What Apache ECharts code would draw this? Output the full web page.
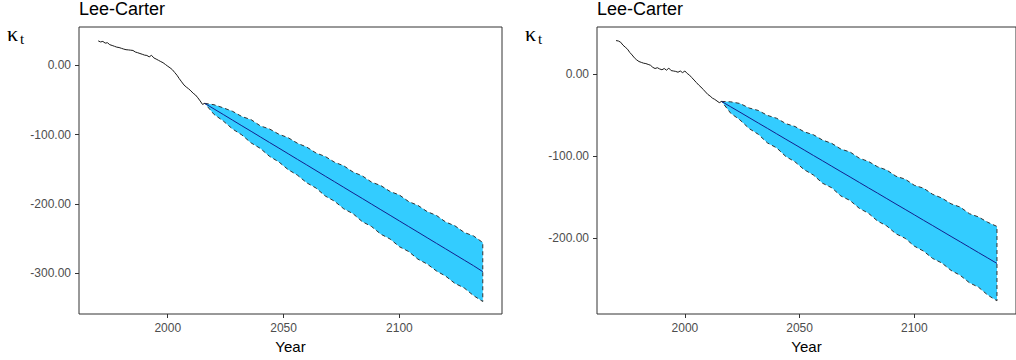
<!DOCTYPE html>
<html>
<head>
<meta charset="utf-8">
<script src="https://cdn.jsdelivr.net/npm/echarts@6/dist/echarts.min.js"></script>
<style>html,body{margin:0;padding:0;background:#fff}#c{width:1016px;height:360px}</style>
</head>
<body>
<div id="c"></div>
<script>
// ---------- data ----------
const histYears = [1970,1971,1972,1973,1974,1975,1976,1977,1978,1979,1980,1981,1982,1983,1984,1985,1986,1987,1988,1989,1990,1991,1992,1993,1994,1995,1996,1997,1998,1999,2000,2001,2002,2003,2004,2005,2006,2007,2008,2009,2010,2011,2012,2013,2014,2015,2016];
const histLeft = [35.0,33.5,34.2,31.8,32.3,29.5,28.4,27.2,26.0,25.4,24.3,23.2,22.3,22.0,21.6,21.2,19.0,18.0,16.8,15.7,14.5,14.0,12.0,14.2,10.5,8.8,7.0,5.2,3.5,1.0,-1.5,-3.8,-6.5,-10.5,-14.5,-19.5,-24.0,-28.5,-31.5,-34.0,-37.0,-40.5,-43.0,-47.0,-51.5,-56.5,-55.0];
const histRight = [40.5,40.0,38.5,35.0,32.5,30.0,26.0,23.0,19.5,17.0,15.0,14.0,13.0,12.5,11.5,10.5,8.0,6.5,7.5,6.0,5.0,6.5,4.5,7.0,4.0,3.5,3.0,2.0,3.5,1.5,3.5,0.5,-1.5,-4.5,-7.5,-10.5,-13.5,-16.0,-19.0,-22.0,-25.0,-27.0,-29.5,-31.0,-33.0,-35.0,-33.5];

const fcYears = [2016,2020,2024,2028,2032,2036,2040,2044,2048,2052,2056,2060,2064,2068,2072,2076,2080,2084,2088,2092,2096,2100,2104,2108,2112,2116,2120,2124,2128,2132,2136];
const meanLeft = [-55.0,-63.1,-71.1,-79.2,-87.3,-95.3,-103.4,-111.5,-119.5,-127.6,-135.7,-143.7,-151.8,-159.9,-167.9,-176.0,-184.1,-192.1,-200.2,-208.3,-216.3,-224.4,-232.5,-240.5,-248.6,-256.7,-264.7,-272.8,-280.9,-288.9,-297.5];
const upperLeft = [-55.0,-57.0,-61.5,-66.5,-74.0,-78.5,-87.5,-92.0,-99.5,-104.5,-112.5,-118.0,-126.5,-131.5,-139.8,-145.0,-154.0,-159.5,-168.5,-173.5,-182.0,-187.0,-196.5,-202.0,-211.0,-216.5,-226.0,-231.5,-241.0,-246.0,-255.5];
const lowerLeft = [-55.0,-71.0,-80.5,-92.0,-100.5,-112.0,-120.0,-131.5,-139.5,-150.5,-158.5,-169.5,-177.0,-188.5,-196.0,-207.0,-214.0,-225.5,-232.5,-243.5,-250.5,-261.5,-268.5,-279.5,-286.5,-296.5,-304.0,-314.5,-321.0,-332.0,-340.5];
const meanRight = [-33.5,-40.1,-46.6,-53.2,-59.8,-66.3,-72.9,-79.5,-86.0,-92.6,-99.2,-105.7,-112.3,-118.9,-125.4,-132.0,-138.6,-145.1,-151.7,-158.3,-164.8,-171.4,-178.0,-184.5,-191.1,-197.7,-204.2,-210.8,-217.4,-223.9,-230.5];
const upperRight = [-33.5,-34.0,-36.0,-41.5,-44.5,-50.5,-54.0,-60.5,-64.0,-70.5,-74.0,-80.5,-84.5,-91.5,-95.0,-102.5,-106.5,-113.0,-117.0,-124.5,-128.0,-135.5,-139.0,-146.5,-151.0,-158.0,-162.0,-170.0,-174.0,-180.5,-185.5];
const lowerRight = [-33.5,-48.0,-56.0,-66.5,-73.5,-84.0,-90.0,-100.5,-107.0,-116.5,-123.0,-133.0,-138.5,-148.5,-154.0,-163.5,-169.5,-179.0,-185.0,-194.5,-200.0,-209.5,-215.5,-224.5,-230.0,-239.0,-245.0,-254.0,-259.5,-269.0,-276.0];

const xTicks = [2000, 2050, 2100];
const yTicksLeft = [-300, -200, -100, 0];
const yTicksRight = [-200, -100, 0];

// ---------- chart ----------
const FONT = 'Liberation Sans, Arial, sans-serif';
const chart = echarts.init(document.getElementById('c'), null, {renderer: 'svg'});

function pairs(xs, ys) { return xs.map((x, i) => [x, ys[i]]); }

function xAxisCfg(gi) {
  return {
    type: 'value', gridIndex: gi, min: 1961.7, max: 2144.3, position: 'bottom',
    axisLine: {show: false, onZero: false}, splitLine: {show: false},
    axisTick: {show: true, length: 4, lineStyle: {color: '#333', width: 1}, customValues: xTicks},
    axisLabel: {customValues: xTicks, color: '#4D4D4D', fontSize: 12, margin: 8, fontFamily: FONT,
      formatter: v => String(Math.round(v))},
    name: 'Year', nameLocation: 'middle', nameGap: 22,
    nameTextStyle: {fontSize: 15, color: '#000', fontFamily: FONT}
  };
}
function yAxisCfg(gi, mn, mx, ticks) {
  return {
    type: 'value', gridIndex: gi, min: mn, max: mx, position: 'left',
    axisLine: {show: false, onZero: false}, splitLine: {show: false},
    axisTick: {show: true, length: 4, lineStyle: {color: '#333', width: 1}, customValues: ticks},
    axisLabel: {customValues: ticks, color: '#4D4D4D', fontSize: 12, margin: 8, fontFamily: FONT,
      formatter: v => Number(v).toFixed(2)}
  };
}
function band(gi, up, lo) {
  return {
    type: 'custom', xAxisIndex: gi, yAxisIndex: gi, silent: true, z: 2,
    data: [[fcYears[0], up[0]]],
    renderItem: function (params, api) {
      const pts = [];
      for (let i = 0; i < fcYears.length; i++) pts.push(api.coord([fcYears[i], up[i]]));
      for (let i = fcYears.length - 1; i >= 0; i--) pts.push(api.coord([fcYears[i], lo[i]]));
      return {type: 'polygon', shape: {points: pts},
        style: {fill: '#33CCFF', stroke: '#333', lineWidth: 1, lineDash: [4, 3]}};
    }
  };
}
function line(gi, xs, ys, color, z) {
  return {type: 'line', xAxisIndex: gi, yAxisIndex: gi, data: pairs(xs, ys), showSymbol: false,
    symbol: 'none', silent: true, z: z, lineStyle: {color: color, width: 1}};
}

chart.setOption({
  backgroundColor: '#fff',
  animation: false,
  grid: [
    {left: 79, top: 27, width: 423, height: 287, show: true, borderColor: '#333', borderWidth: 1, backgroundColor: 'transparent'},
    {left: 597, top: 27, width: 423, height: 287, show: true, borderColor: '#333', borderWidth: 1, backgroundColor: 'transparent'}
  ],
  xAxis: [xAxisCfg(0), xAxisCfg(1)],
  yAxis: [yAxisCfg(0, -358.5, 55, yTicksLeft), yAxisCfg(1, -292, 57, yTicksRight)],
  series: [
    band(0, upperLeft, lowerLeft),
    line(0, fcYears, meanLeft, '#14208c', 3),
    line(0, histYears, histLeft, '#1a1a1a', 3),
    band(1, upperRight, lowerRight),
    line(1, fcYears, meanRight, '#14208c', 3),
    line(1, histYears, histRight, '#1a1a1a', 3)
  ],
  graphic: [
    {type: 'text', left: 79, top: 0, style: {text: 'Lee-Carter', fontSize: 18, fontFamily: FONT, fill: '#000'}},
    {type: 'text', left: 597, top: 0, style: {text: 'Lee-Carter', fontSize: 18, fontFamily: FONT, fill: '#000'}},
    {type: 'text', left: 7, top: 22, style: {text: 'κ', fontSize: 22, fontFamily: 'Liberation Serif, serif', fill: '#000'}},
    {type: 'text', left: 20, top: 31, style: {text: 't', fontSize: 15, fontFamily: 'Liberation Serif, serif', fill: '#000'}},
    {type: 'text', left: 525, top: 22, style: {text: 'κ', fontSize: 22, fontFamily: 'Liberation Serif, serif', fill: '#000'}},
    {type: 'text', left: 538, top: 31, style: {text: 't', fontSize: 15, fontFamily: 'Liberation Serif, serif', fill: '#000'}}
  ]
});
</script>
</body>
</html>
